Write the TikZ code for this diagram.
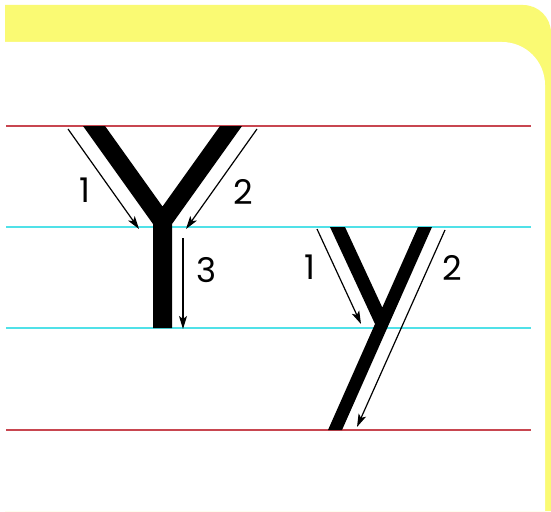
\documentclass[tikz,border=0pt]{standalone}
\usepackage{fontspec}
\newfontfamily\digitfont{Poppins}
\usetikzlibrary{arrows.meta}
\definecolor{padyellow}{RGB}{250,250,115}
\definecolor{rulered}{RGB}{200,70,80}
\definecolor{rulecyan}{RGB}{80,225,232}
\tikzset{
  every picture/.style={line join=round, >={Stealth[length=13pt,width=8pt,inset=3pt]}},
  redrule/.style={rulered, line width=2.4pt},
  cyanrule/.style={rulecyan, line width=2.4pt},
  letter/.style={fill=black},
  stroke/.style={->, line width=1.2pt},
  num/.style={font=\digitfont\fontsize{34}{34}\selectfont, inner sep=0pt},
}

\begin{document}
\begin{tikzpicture}[x=1pt,y=-1pt]
\useasboundingbox (0,0) rectangle (551,511);
\fill[white] (0,0) rectangle (551,511);
% page frame
\fill[padyellow] (5,5) -- (523,5) arc[start angle=-90,end angle=0,radius=28] -- (551,511) -- (5,511) -- cycle;
\fill[white] (0,42) -- (502,42) arc[start angle=-90,end angle=0,radius=43] -- (545,511) -- (0,511) -- cycle;
% writing lines
\draw[redrule] (6,126) -- (531,126);
\draw[cyanrule] (6,227) -- (531,227);
\draw[cyanrule] (6,328) -- (531,328);
\draw[redrule] (6,430) -- (531,430);
% capital Y
\fill[letter] (83,126) -- (105,126) -- (162.5,206.5) -- (220,126) -- (242,126)
  -- (172,224) -- (172,328) -- (153,328) -- (153,224) -- cycle;
% small y
\fill[letter] (330,227) -- (345,227) -- (382.3,307.5) -- (418,227) -- (432,227)
  -- (342,430) -- (328,430) -- (375,324) -- cycle;
% stroke order
\coordinate (A1s) at (68,129);  \coordinate (A1e) at (139,229);
\coordinate (A2s) at (257,129); \coordinate (A2e) at (186,229);
\coordinate (A3s) at (183,238); \coordinate (A3e) at (183,329);
\coordinate (b1s) at (317,229); \coordinate (b1e) at (361,324);
\coordinate (b2s) at (445,230); \coordinate (b2e) at (357,427);
\draw[stroke] (A1s) -- (A1e);
\draw[stroke] (A2s) -- (A2e);
\draw[stroke] (A3s) -- (A3e);
\draw[stroke] (b1s) -- (b1e);
\draw[stroke] (b2s) -- (b2e);
\node[num] (nA1) at (85,190) {1};
\node[num] (nA2) at (243,192) {2};
\node[num] (nA3) at (207,270) {3};
\node[num] (nb1) at (310,267) {1};
\node[num] (nb2) at (452,268) {2};
\end{tikzpicture}
\end{document}
